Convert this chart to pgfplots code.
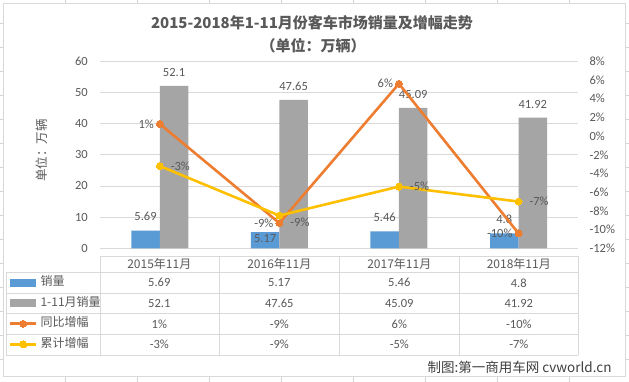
\documentclass[border=0pt]{standalone}
\usepackage{fontspec}
\setmainfont{Carlito}
\newfontfamily\cjk{Noto Sans CJK SC}
\usepackage{pgfplots}
\pgfplotsset{compat=1.18}
\usepackage{pgfplotstable}

\definecolor{cblue}{HTML}{5B9BD5}
\definecolor{cgray}{HTML}{A5A5A5}
\definecolor{corange}{HTML}{ED7D31}
\definecolor{cyellow}{HTML}{FFC000}
\definecolor{txt}{HTML}{595959}
\definecolor{gridc}{HTML}{D9D9D9}
\definecolor{ssgrid}{HTML}{D4D4D4}
\definecolor{wm}{HTML}{404040}

\pgfplotsset{
  mylinelegend/.style={legend image code/.code={\draw[mark repeat=2,mark phase=2,##1] plot coordinates {(0pt,0pt) (13pt,0pt) (26pt,0pt)};}},
  bluelegend/.style={legend image code/.code={\fill[cblue] (0pt,-3.5pt) rectangle (25pt,3.5pt);}},
  graylegend/.style={legend image code/.code={\fill[cgray] (0pt,-3.5pt) rectangle (25pt,3.5pt);}},
}

\pgfplotstableread{
x y dy
0 5.69 0
1 5.17 -20
2 5.46 0
3 4.8 0
}\monthly
\pgfplotstableread{
x y
0 52.1
1 47.65
2 45.09
3 41.92
}\ytd
\pgfplotstableread{
x y lab
0 1.3 1
1 -9.3 -9
2 5.6 6
3 -10.4 -10
}\yoy
\pgfplotstableread{
x y lab dy
0 -3.2 -3 0
1 -8.5 -9 -7
2 -5.4 -5 0
3 -7.0 -7 0
}\cum

\begin{document}
\begin{tikzpicture}
\begin{scope}[x=1pt,y=1pt]
\path[use as bounding box] (0,0) rectangle (629,382);
% spreadsheet grid behind chart
\begin{scope}[draw=ssgrid, line width=0.8pt]
\foreach \gx in {65.7,137.7,...,600} \draw (\gx,0) -- (\gx,382);
\foreach \gy in {22.7,46.7,...,370} \draw (0,\gy) -- (629,\gy);
\end{scope}
\fill[white] (3,6) rectangle (625,379);
\draw[gridc, line width=0.8pt] (3,6) rectangle (625,379);
% titles
\node[font=\cjk\bfseries\fontsize{15}{18}\selectfont, text=txt] at (312,359) {2015-2018年1-11月份客车市场销量及增幅走势};
\node[font=\cjk\bfseries\fontsize{15}{18}\selectfont, text=txt] at (313,336) {（单位：万辆）};
\end{scope}

\begin{axis}[
  at={(100pt,133.7pt)}, anchor=south west, scale only axis,
  width=478.3pt, height=187pt,
  xmin=-0.5, xmax=3.5, ymin=0, ymax=60,
  ytick={0,10,...,60}, xtick=\empty,
  axis line style={draw=none}, major tick length=0pt,
  ymajorgrids, grid style={color=gridc, line width=0.8pt},
  ybar=0pt, bar width=28.5pt,
  clip=false,
  /pgf/number format/assume math mode=true,
  yticklabel style={font=\fontsize{12.5}{14}\selectfont, text=txt, inner sep=0pt, xshift=-12pt},
  ylabel={单位：万辆},
  every axis y label/.style={at={(axis description cs:-0.1213,0.524)}, rotate=90, anchor=center, font=\cjk\fontsize{12.5}{14}\selectfont, text=txt},
  nodes near coords style={font=\fontsize{12.5}{14}\selectfont, text=txt, yshift=6pt},
]
\addplot[fill=cblue, draw=none, nodes near coords,
  visualization depends on={\thisrow{dy}\as\myshift},
  every node near coord/.append style={yshift=\myshift}]
  table[x=x,y=y] {\monthly};
\addplot[fill=cgray, draw=none, nodes near coords] table[x=x,y=y] {\ytd};
\end{axis}

\begin{axis}[
  at={(100pt,133.7pt)}, anchor=south west, scale only axis,
  width=478.3pt, height=187pt,
  xmin=-0.5, xmax=3.5, ymin=-12, ymax=8,
  ytick={-12,-10,...,8},
  yticklabels={-12\%,-10\%,-8\%,-6\%,-4\%,-2\%,0\%,2\%,4\%,6\%,8\%},
  axis y line*=right, axis x line=none,
  axis line style={draw=none}, major tick length=0pt,
  yticklabel style={font=\fontsize{12.5}{14}\selectfont, text=txt, inner sep=0pt, xshift=11pt},
  clip=false,
  legend cell align=left,
  legend style={at={(axis description cs:-0.1903,-0.1283)}, anchor=north west,
    draw=none, fill=none, inner sep=0pt, outer sep=0pt, row sep=0pt,
    font=\cjk\fontsize{12}{14}\selectfont, text=txt,
    nodes={inner sep=0pt, text height=9pt, text depth=3pt, minimum height=20.6pt},
    /tikz/every odd column/.append style={column sep=3pt}},
]
\addlegendimage{bluelegend}
\addlegendentry{销量}
\addlegendimage{graylegend}
\addlegendentry{1-11月销量}
\addplot[color=corange, line width=2.6pt, mark=*, mark size=3.5pt,
  mark options={fill=corange, draw=corange, line width=0pt},
  mylinelegend,
  nodes near coords={\pgfplotspointmeta\%}, point meta=explicit symbolic,
  nodes near coords align={anchor=east},
  every node near coord/.append style={anchor=east, xshift=-6pt, inner sep=0pt, font=\fontsize{12.5}{14}\selectfont, text=txt}]
  table[x=x,y=y,meta=lab] {\yoy};
\addlegendentry{同比增幅}
\addplot[color=cyellow, line width=2.6pt, mark=*, mark size=3.5pt,
  mark options={fill=cyellow, draw=cyellow, line width=0pt},
  mylinelegend,
  nodes near coords={\pgfplotspointmeta\%}, point meta=explicit symbolic,
  nodes near coords align={anchor=west},
  visualization depends on={\thisrow{dy}\as\myshift},
  every node near coord/.append style={anchor=west, xshift=11pt, yshift=\myshift, inner sep=0pt, font=\fontsize{12.5}{14}\selectfont, text=txt}]
  table[x=x,y=y,meta=lab] {\cum};
\addlegendentry{累计增幅}
\end{axis}

\begin{scope}[x=1pt,y=1pt]
% data table grid
\begin{scope}[draw=gridc, line width=0.8pt]
\draw (100,126) -- (578.3,126);
\foreach \hy in {109.7,88.7,68.7,47.7,27} \draw (6,\hy) -- (578.3,\hy);
\draw (6,27) -- (6,109.7);
\foreach \vx in {100,219.3,339.3,459.3,578.3} \draw (\vx,27) -- (\vx,126);
\end{scope}
% table header
\begin{scope}[every node/.style={font=\cjk\fontsize{12}{14}\selectfont, text=txt, anchor=center}]
\node at (159.3,118) {2015年11月};
\node at (279.3,118) {2016年11月};
\node at (399.3,118) {2017年11月};
\node at (518.8,118) {2018年11月};
\end{scope}
\begin{scope}[every node/.style={font=\fontsize{12.5}{14}\selectfont, text=txt, anchor=center}]
\node at (159.3,99.2) {5.69};  \node at (279.3,99.2) {5.17};  \node at (399.3,99.2) {5.46};  \node at (518.8,99.2) {4.8};
\node at (159.3,78.7) {52.1};  \node at (279.3,78.7) {47.65}; \node at (399.3,78.7) {45.09}; \node at (518.8,78.7) {41.92};
\node at (159.3,58.2) {1\%};   \node at (279.3,58.2) {-9\%};  \node at (399.3,58.2) {6\%};   \node at (518.8,58.2) {-10\%};
\node at (159.3,37.3) {-3\%};  \node at (279.3,37.3) {-9\%};  \node at (399.3,37.3) {-5\%};  \node at (518.8,37.3) {-7\%};
\end{scope}
% source note
\node[anchor=east, font=\cjk\fontsize{13.5}{16}\selectfont, text=wm] at (615,15) {制图:第一商用车网 cvworld.cn};
\end{scope}
\end{tikzpicture}
\end{document}
